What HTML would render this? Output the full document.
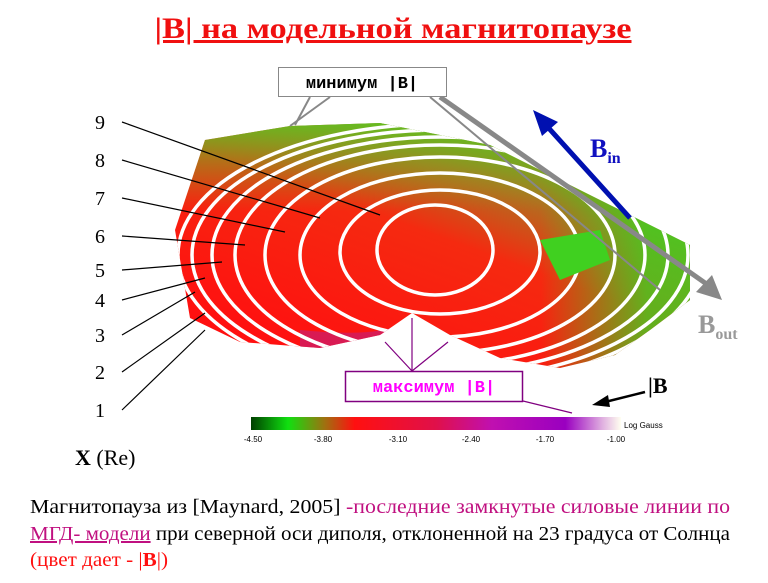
<!DOCTYPE html>
<html><head><meta charset="utf-8"><style>
body{margin:0;background:#fff;width:768px;height:578px;overflow:hidden;font-family:"Liberation Serif",serif}
</style></head><body>
<svg width="768" height="578" xmlns="http://www.w3.org/2000/svg">
<defs>
<linearGradient id="g1" x1="0.2" y1="0.9" x2="0.85" y2="0.05">
<stop offset="0" stop-color="#ff1010"/><stop offset="0.5" stop-color="#f52a10"/><stop offset="0.72" stop-color="#b07020"/><stop offset="0.9" stop-color="#50c020"/><stop offset="1" stop-color="#40e020"/></linearGradient>
<linearGradient id="g2" x1="0" y1="0" x2="0" y2="1"><stop offset="0" stop-color="#60c020" stop-opacity="0.95"/><stop offset="0.35" stop-color="#90a020" stop-opacity="0"/></linearGradient>
<linearGradient id="g3" x1="0" y1="0" x2="1" y2="0"><stop offset="0.7" stop-color="#40d020" stop-opacity="0"/><stop offset="0.9" stop-color="#40d020" stop-opacity="0.8"/></linearGradient>
<linearGradient id="cb" x1="0" x2="1">
<stop offset="0" stop-color="#004000"/><stop offset="0.1" stop-color="#10e010"/><stop offset="0.2" stop-color="#a07010"/><stop offset="0.28" stop-color="#ff1010"/><stop offset="0.5" stop-color="#e0104a"/><stop offset="0.65" stop-color="#c010b0"/><stop offset="0.85" stop-color="#9a00c0"/><stop offset="0.95" stop-color="#e0b0e0"/><stop offset="1" stop-color="#fffff0"/></linearGradient>
<clipPath id="cp"><path d="M205,140 L290,126 L380,123 L490,145 L580,190 L690,245 L690,300 L650,330 L615,355 L560,368 L500,358 L450,335 L412,313 L380,335 L320,348 L240,342 L190,318 L175,230 Z"/></clipPath>
</defs>
<text x="393" y="38" text-anchor="middle" fill="#f01010" font-size="30" font-weight="bold" text-decoration="underline" textLength="477" lengthAdjust="spacingAndGlyphs">|B| на модельной магнитопаузе</text>
<path d="M205,140 L290,126 L380,123 L490,145 L580,190 L690,245 L690,300 L650,330 L615,355 L560,368 L500,358 L450,335 L412,313 L380,335 L320,348 L240,342 L190,318 L175,230 Z" fill="url(#g1)"/>
<g clip-path="url(#cp)">
<rect x="170" y="120" width="530" height="260" fill="url(#g2)"/>
<rect x="170" y="120" width="530" height="260" fill="url(#g3)"/>
<path d="M300,330 Q400,340 412,313 Q440,345 520,365 L560,370 L300,370Z" fill="#c02080" opacity="0.6"/>
<g fill="none" stroke="#fff" stroke-width="3.5">
<ellipse cx="435" cy="250" rx="58" ry="45"/>
<ellipse cx="440" cy="252" rx="100" ry="62"/>
<ellipse cx="440" cy="255" rx="140" ry="82"/>
<ellipse cx="440" cy="255" rx="175" ry="98"/>
<ellipse cx="440" cy="255" rx="205" ry="110"/>
<ellipse cx="440" cy="255" rx="228" ry="118"/>
<ellipse cx="440" cy="255" rx="248" ry="125"/>
<ellipse cx="440" cy="255" rx="262" ry="131"/>
</g>
<path d="M540,240 L600,230 L610,260 L560,280Z" fill="#40d020"/>
</g>
<g stroke="#000" stroke-width="1.2">
<line x1="122" y1="122" x2="380" y2="215"/><line x1="122" y1="160" x2="320" y2="218"/><line x1="122" y1="198" x2="285" y2="232"/><line x1="122" y1="236" x2="245" y2="245"/><line x1="122" y1="270" x2="222" y2="262"/><line x1="122" y1="300" x2="205" y2="278"/><line x1="122" y1="335" x2="195" y2="292"/><line x1="122" y1="372" x2="205" y2="313"/><line x1="122" y1="410" x2="205" y2="330"/>
</g>
<g font-size="20" text-anchor="middle">
<text x="100" y="129">9</text><text x="100" y="167">8</text><text x="100" y="205">7</text><text x="100" y="243">6</text><text x="100" y="277">5</text><text x="100" y="307">4</text><text x="100" y="342">3</text><text x="100" y="379">2</text><text x="100" y="417">1</text></g>
<g stroke="#888" stroke-width="2" fill="none"><line x1="310" y1="97" x2="295" y2="125"/><line x1="330" y1="97" x2="290" y2="126"/><line x1="430" y1="97" x2="660" y2="290"/></g>
<line x1="440" y1="97" x2="708" y2="285" stroke="#888" stroke-width="5"/>
<polygon points="722,300 696,292 712,275" fill="#888"/>
<line x1="630" y1="218" x2="545" y2="124" stroke="#0010b0" stroke-width="5"/>
<polygon points="533,110 558,122 542,136" fill="#0010b0"/>
<text x="590" y="157" fill="#1010c0" font-size="26" font-weight="bold">B<tspan font-size="16" dy="6">in</tspan></text>
<text x="698" y="333" fill="#999" font-size="26" font-weight="bold">B<tspan font-size="16" dy="6">out</tspan></text>
<rect x="278.5" y="67.5" width="168" height="29" fill="#fff" stroke="#888"/>
<text x="362" y="88" text-anchor="middle" font-family="Liberation Mono,monospace" font-weight="bold" font-size="17">минимум |B|</text>
<g stroke="#800080" stroke-width="1.2"><line x1="412" y1="318" x2="412" y2="371"/><line x1="385" y1="342" x2="412" y2="371"/><line x1="448" y1="342" x2="412" y2="371"/><line x1="523" y1="401" x2="572" y2="413"/></g>
<rect x="345.5" y="371.5" width="177" height="30" fill="#fff" stroke="#800080" stroke-width="1.5"/>
<text x="434" y="392" text-anchor="middle" fill="#ff00ff" font-family="Liberation Mono,monospace" font-weight="bold" font-size="17">максимум |B|</text>
<line x1="645" y1="392" x2="605" y2="402" stroke="#000" stroke-width="2.5"/>
<polygon points="592,405 608,395 610,407"/>
<text x="648" y="393" font-size="22" font-weight="bold">|B</text>
<rect x="251" y="417" width="370" height="13" fill="url(#cb)"/>
<text x="624" y="428" font-family="Liberation Sans,sans-serif" font-size="8">Log Gauss</text>
<g font-family="Liberation Sans,sans-serif" font-size="8" text-anchor="middle">
<text x="253" y="442">-4.50</text><text x="323" y="442">-3.80</text><text x="398" y="442">-3.10</text><text x="471" y="442">-2.40</text><text x="545" y="442">-1.70</text><text x="616" y="442">-1.00</text></g>
<text x="75" y="465" font-size="22"><tspan font-weight="bold">X</tspan> (Re)</text>
<g font-size="20">
<text x="30" y="513" textLength="700" lengthAdjust="spacingAndGlyphs">Магнитопауза из [Maynard, 2005]  <tspan fill="#c01080">-последние замкнутые силовые линии по</tspan></text>
<text x="30" y="540" textLength="700" lengthAdjust="spacingAndGlyphs"><tspan fill="#c01080" text-decoration="underline">МГД- модели</tspan> при северной оси диполя, отклоненной на 23 градуса от Солнца</text>
<text x="30" y="566" fill="#ff1010" textLength="138" lengthAdjust="spacingAndGlyphs">(цвет дает - |<tspan font-weight="bold">B</tspan>|)</text></g>
</svg>
</body></html>
